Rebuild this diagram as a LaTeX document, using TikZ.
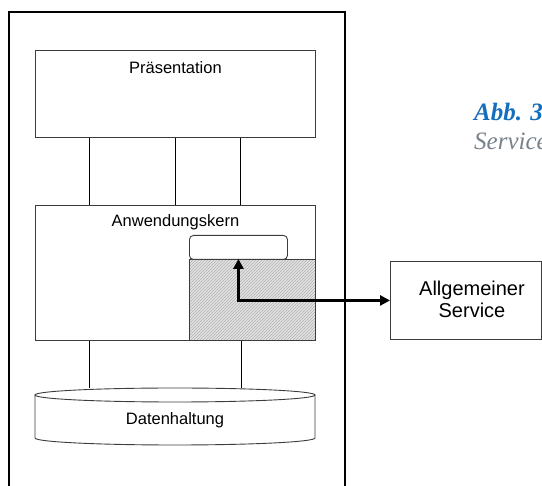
\documentclass[tikz,border=0pt]{standalone}
\usepackage{fontspec}
\setmainfont{Liberation Sans}
\newfontfamily\capfont{Liberation Serif}
\usetikzlibrary{patterns,arrows.meta,shapes.geometric}
\definecolor{capblue}{RGB}{20,110,190}
\definecolor{capgray}{RGB}{120,130,140}
\definecolor{boxline}{RGB}{60,60,60}
\begin{document}
\begin{tikzpicture}[x=1pt,y=-1pt,
  layerbox/.style={draw=boxline,line width=0.9pt,rectangle,inner sep=0pt,anchor=north west},
  layertext/.style={font=\fontsize{16.5}{19}\selectfont,anchor=north,inner sep=0pt},
  link/.style={draw=black,line width=1pt},
  callarrow/.style={draw=black,line width=3pt,{Triangle[length=10pt,width=10pt]}-{Triangle[length=10pt,width=10pt]}}
]
\useasboundingbox (0,0) rectangle (542,486);
\begin{scope}
\clip (0,0) rectangle (542,486);
% system frame, open at the bottom
\draw[line width=1.5pt,black] (9,500) -- (9,12) -- (345,12) -- (345,500);

% presentation layer
\node[layerbox,minimum width=280pt,minimum height=87pt] (praes) at (35,50) {};
\node[layertext] (praesT) at ([yshift=-11pt]praes.north) {Präsentation};

% application core
\node[layerbox,minimum width=280pt,minimum height=135pt] (kern) at (35,205) {};
\node[layertext] (kernT) at ([yshift=-9pt]kern.north) {Anwendungskern};

% hatched area inside the core
\node[draw=boxline,line width=0.9pt,rectangle,inner sep=0pt,anchor=north west,
  minimum width=126pt,minimum height=81pt,
  preaction={fill=gray!22},pattern=north east lines,pattern color=gray!60] (hatch) at (189,259) {};
% interface tab on top of it
\node[draw=boxline,line width=0.9pt,rectangle,rounded corners=4pt,fill=white,inner sep=0pt,
  anchor=north west,minimum width=98pt,minimum height=24pt] (tab) at (189,235) {};

% data layer as a flat cylinder
\coordinate (dtop) at (175,395);
\coordinate (dbot) at (175,438);
\draw[draw=boxline,line width=0.9pt,fill=white]
  (35,395) -- (35,438) arc[start angle=180,end angle=360,x radius=140pt,y radius=7pt]
  -- (315,395);
\draw[draw=boxline,line width=0.9pt] (dtop) ellipse[x radius=140pt,y radius=7pt];
\node[font=\fontsize{16.5}{19}\selectfont,inner sep=0pt] (daten) at (175,420) {Datenhaltung};

% connections between layers
\draw[link] (praes.south -| 89,0) -- (kern.north -| 89,0);
\draw[link] (praes.south -| 175,0) -- (kern.north -| 175,0);
\draw[link] (praes.south -| 240,0) -- (kern.north -| 240,0);
\draw[link] (kern.south -| 89,0) -- (89,388);
\draw[link] (kern.south -| 241,0) -- (241,388);

% external service
\node[draw=boxline,line width=0.9pt,rectangle,inner sep=0pt,anchor=north west,
  minimum width=151pt,minimum height=78pt] (service) at (390,261) {};
\node[font=\fontsize{20}{22}\selectfont,align=center,inner sep=0pt,anchor=base] (serviceT)
  at (472,318) {Allgemeiner\\Service};

\draw[callarrow] ([yshift=1pt]tab.south) |- (service.west);

% caption
\node[font=\capfont\bfseries\itshape\fontsize{25}{28}\selectfont,text=capblue,
  anchor=base west,inner sep=0pt] (capA) at (474,121) {Abb. 3};
\node[font=\capfont\itshape\fontsize{25}{28}\selectfont,text=capgray,
  anchor=base west,inner sep=0pt] (capB) at (474,150) {Service};
\end{scope}
\end{tikzpicture}
\end{document}
